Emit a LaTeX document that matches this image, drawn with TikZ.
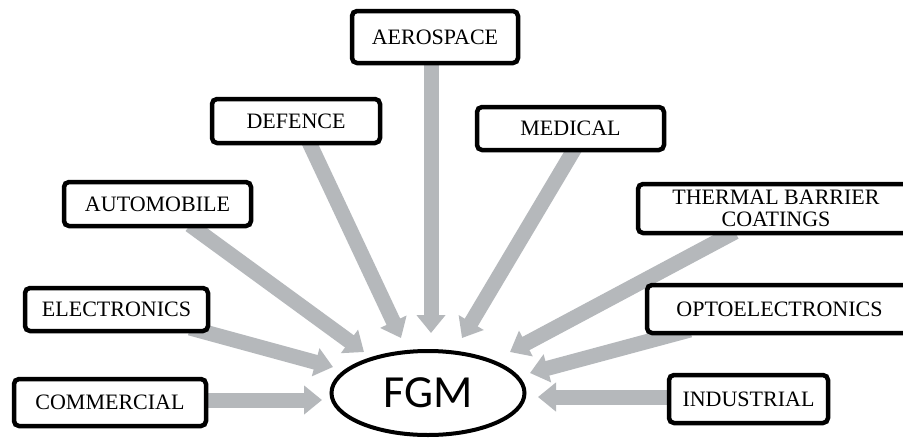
\documentclass[tikz,border=0pt]{standalone}
\usepackage{fontspec}
\setmainfont{Liberation Serif}
\newfontfamily\fgmfont{Carlito}
\usetikzlibrary{arrows.meta,shapes.geometric}
\definecolor{arrowgrey}{RGB}{181,184,187}
\tikzset{
  appbox/.style={draw=black, line width=4.5pt, rounded corners=5pt, fill=white,
    inner sep=0pt, font=\fontsize{22}{22.5}\selectfont, align=center},
  bigarrow/.style={draw=arrowgrey, line width=15pt,
    -{Triangle[width=28pt,length=18pt]}},
}
\begin{document}
\begin{tikzpicture}[x=1pt,y=-1pt]
\useasboundingbox (0,0) rectangle (903,440);
\clip (0,0) rectangle (903,440);
\fill[white] (0,0) rectangle (903,440);

% tails and tips
\coordinate (taero) at (431,62);
\coordinate (haero) at (431,333);
\coordinate (tdef) at (308,140);
\coordinate (hdef) at (401,338);
\coordinate (tmed) at (575,148);
\coordinate (hmed) at (462,338);
\coordinate (tauto) at (190,225);
\coordinate (hauto) at (364,352);
\coordinate (ttherm) at (735,232);
\coordinate (htherm) at (510,352);
\coordinate (telec) at (190,328);
\coordinate (helec) at (333,367);
\coordinate (topto) at (690,330);
\coordinate (hopto) at (530,373);
\coordinate (tcomm) at (205,400);
\coordinate (hcomm) at (322,400);
\coordinate (tind) at (670,397);
\coordinate (hind) at (538,397);

\draw[bigarrow] (taero) -- (haero);
\draw[bigarrow] (tdef) -- (hdef);
\draw[bigarrow] (tmed) -- (hmed);
\draw[bigarrow] (tauto) -- (hauto);
\draw[bigarrow] (ttherm) -- (htherm);
\draw[bigarrow] (telec) -- (helec);
\draw[bigarrow] (topto) -- (hopto);
\draw[bigarrow] (tcomm) -- (hcomm);
\draw[bigarrow] (tind) -- (hind);

\node[appbox, minimum width=166pt, minimum height=52pt] (aero) at (435,37) {AEROSPACE};
\node[appbox, minimum width=168pt, minimum height=44pt] (def) at (296,121) {DEFENCE};
\node[appbox, minimum width=187pt, minimum height=43pt] (med) at (570.5,128.5) {MEDICAL};
\node[appbox, minimum width=187pt, minimum height=44pt] (auto) at (157.5,204) {AUTOMOBILE};
\node[appbox, minimum width=276pt, minimum height=49pt] (therm) at (776,208.5) {THERMAL BARRIER\\COATINGS};
\node[appbox, minimum width=183pt, minimum height=43pt] (elec) at (116.5,309.5) {ELECTRONICS};
\node[appbox, minimum width=265pt, minimum height=48pt] (opto) at (779.5,309) {OPTOELECTRONICS};
\node[appbox, minimum width=192pt, minimum height=47pt] (comm) at (110,402.5) {COMMERCIAL};
\node[appbox, minimum width=159pt, minimum height=48pt] (ind) at (748.5,399) {INDUSTRIAL};

\node[draw=black, line width=4pt, ellipse, fill=white, minimum width=193pt,
  minimum height=84pt, inner sep=0pt, font=\fgmfont\fontsize{46}{46}\selectfont]
  (fgm) at (428,393) {FGM};
\end{tikzpicture}
\end{document}
